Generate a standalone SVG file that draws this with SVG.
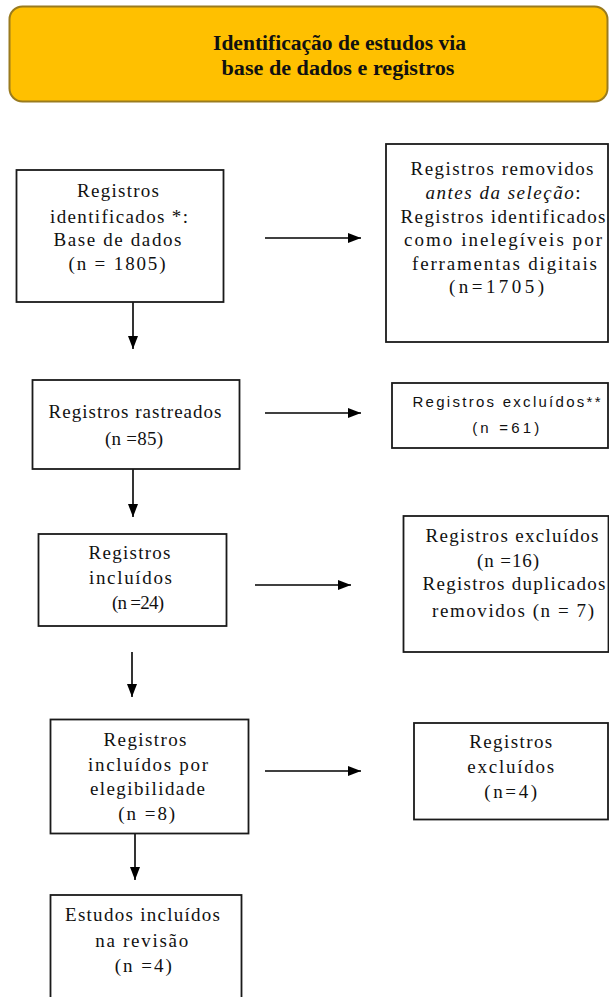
<svg xmlns="http://www.w3.org/2000/svg" width="609" height="997" viewBox="0 0 609 997">
<defs>
<style>
.box{fill:#fff;stroke:#1a1a1a;stroke-width:1.8}
.t{font-family:"Liberation Serif","Times New Roman",serif;font-size:19px;fill:#111;text-anchor:middle}
.s{font-family:"Liberation Sans",Arial,sans-serif;font-size:15px;fill:#111;text-anchor:middle}
.h{font-family:"Liberation Serif","Times New Roman",serif;font-size:20px;font-weight:bold;fill:#111;text-anchor:middle}
.c{stroke:#000;stroke-width:1.6;fill:none;marker-end:url(#ah)}
</style>
<marker id="ah" markerUnits="userSpaceOnUse" markerWidth="13" markerHeight="10" refX="13" refY="5" orient="auto">
<path d="M0,0 L13,5 L0,10 z" fill="#000"/>
</marker>
</defs>
<rect width="609" height="997" fill="#fff"/>
<g id="header">
<rect x="9.5" y="6.5" width="598" height="95" rx="13" fill="#FFC000" stroke="#9A7B1E" stroke-width="2"/>
<text class="h" x="339.5" y="50" textLength="253" lengthAdjust="spacingAndGlyphs">Identificação de estudos via</text>
<text class="h" x="338" y="75" textLength="233" lengthAdjust="spacingAndGlyphs">base de dados e registros</text>
</g>
<g id="connectors">
<line class="c" x1="265" y1="238" x2="361" y2="238"/>
<line class="c" x1="133" y1="302" x2="133" y2="349"/>
<line class="c" x1="265" y1="413" x2="361" y2="413"/>
<line class="c" x1="133" y1="469" x2="133" y2="517"/>
<line class="c" x1="255" y1="585" x2="351" y2="585"/>
<line class="c" x1="132" y1="652" x2="132" y2="697"/>
<line class="c" x1="265" y1="771" x2="361" y2="771"/>
<line class="c" x1="135" y1="833" x2="135" y2="880"/>
</g>
<g id="identificados">
<rect class="box" x="16.5" y="170" width="207" height="132"/>
<text class="t" x="118" y="197" textLength="82" lengthAdjust="spacing">Registros</text>
<text class="t" x="119" y="223" textLength="138" lengthAdjust="spacing">identificados *:</text>
<text class="t" x="117.5" y="246" textLength="128" lengthAdjust="spacing">Base de dados</text>
<text class="t" x="117" y="270" textLength="97" lengthAdjust="spacing">(n = 1805)</text>
</g>
<g id="removidos">
<rect class="box" x="386" y="144" width="222" height="198"/>
<text class="t" x="502" y="175" textLength="183" lengthAdjust="spacing">Registros removidos</text>
<text class="t" x="503" y="199" textLength="155" lengthAdjust="spacing" font-style="italic">antes da seleção<tspan font-style="normal">:</tspan></text>
<text class="t" x="503" y="223" textLength="205" lengthAdjust="spacing">Registros identificados</text>
<text class="t" x="503" y="246" textLength="198" lengthAdjust="spacing">como inelegíveis por</text>
<text class="t" x="504.5" y="270" textLength="185" lengthAdjust="spacing">ferramentas digitais</text>
<text class="t" x="496.5" y="293" textLength="95" lengthAdjust="spacing">(n=1705)</text>
</g>
<g id="rastreados">
<rect class="box" x="32.5" y="380" width="207" height="89"/>
<text class="t" x="135" y="418" textLength="173" lengthAdjust="spacing">Registros rastreados</text>
<text class="t" x="134" y="445" textLength="58" lengthAdjust="spacing">(n =85)</text>
</g>
<g id="excluidos61">
<rect class="box" x="392" y="383" width="216" height="65"/>
<text class="s" x="506.5" y="407" textLength="188" lengthAdjust="spacing">Registros excluídos**</text>
<text class="s" x="505.7" y="433" textLength="67" lengthAdjust="spacing">(n =61)</text>
</g>
<g id="incluidos">
<rect class="box" x="38.5" y="534" width="188" height="92"/>
<text class="t" x="129.5" y="559" textLength="82" lengthAdjust="spacing">Registros</text>
<text class="t" x="130.5" y="584" textLength="83" lengthAdjust="spacing">incluídos</text>
<text class="t" x="138" y="609" textLength="52" lengthAdjust="spacing">(n =24)</text>
</g>
<g id="excluidos16">
<rect class="box" x="403.5" y="516" width="205" height="136"/>
<text class="t" x="512" y="542" textLength="173" lengthAdjust="spacing">Registros excluídos</text>
<text class="t" x="508" y="567" textLength="62" lengthAdjust="spacing">(n =16)</text>
<text class="t" x="514" y="590" textLength="183" lengthAdjust="spacing">Registros duplicados</text>
<text class="t" x="513" y="617" textLength="162" lengthAdjust="spacing">removidos (n = 7)</text>
</g>
<g id="elegibilidade">
<rect class="box" x="50.5" y="719.5" width="198" height="114"/>
<text class="t" x="145" y="746" textLength="83" lengthAdjust="spacing">Registros</text>
<text class="t" x="148" y="771" textLength="120" lengthAdjust="spacing">incluídos por</text>
<text class="t" x="147.5" y="795" textLength="115" lengthAdjust="spacing">elegibilidade</text>
<text class="t" x="146.7" y="820" textLength="57" lengthAdjust="spacing">(n =8)</text>
</g>
<g id="excluidos4">
<rect class="box" x="414" y="723" width="194" height="96.5"/>
<text class="t" x="510.7" y="748" textLength="83" lengthAdjust="spacing">Registros</text>
<text class="t" x="510.7" y="773" textLength="87" lengthAdjust="spacing">excluídos</text>
<text class="t" x="510.7" y="798" textLength="53" lengthAdjust="spacing">(n=4)</text>
</g>
<g id="estudos">
<rect class="box" x="50.5" y="895" width="191" height="110"/>
<text class="t" x="142.5" y="921" textLength="155" lengthAdjust="spacing">Estudos incluídos</text>
<text class="t" x="141.7" y="947" textLength="93" lengthAdjust="spacing">na revisão</text>
<text class="t" x="143.3" y="972" textLength="57" lengthAdjust="spacing">(n =4)</text>
</g>
</svg>
